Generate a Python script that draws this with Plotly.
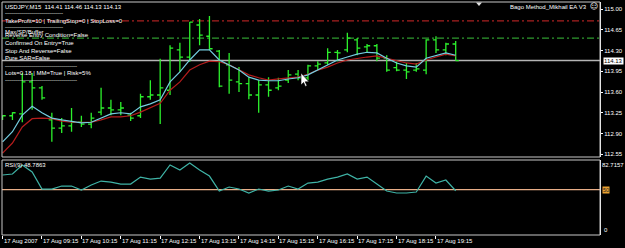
import plotly.graph_objects as go

# ---------------- data ----------------
bar_index = list(range(47))  # USDJPY M15 bars, 17 Aug 2007 08:15 .. 19:45

opens = [113.16, 113.20, 113.23, 113.77, 113.67, 113.13, 112.99, 113.03, 113.09, 113.06,
         113.26, 113.33, 113.30, 113.21, 113.20, 113.52, 113.55, 113.63, 114.31, 114.19,
         114.73, 114.54, 114.29, 114.06, 113.77, 113.74, 113.55, 113.72, 113.67, 113.80,
         113.90, 113.84, 114.04, 114.09, 114.27, 114.31, 114.48, 114.36, 114.38, 114.17,
         114.01, 113.97, 113.97, 113.97, 114.48, 114.31, 114.41]
highs = [113.21, 113.26, 113.92, 113.92, 113.70, 113.25, 113.16, 113.33, 113.20, 113.25,
         113.67, 113.47, 113.43, 113.25, 113.57, 113.80, 114.16, 114.39, 114.43, 114.78,
         114.83, 114.88, 114.31, 114.26, 114.02, 113.85, 113.80, 113.85, 113.84, 113.97,
         113.97, 114.06, 114.12, 114.34, 114.31, 114.60, 114.51, 114.41, 114.41, 114.22,
         114.11, 114.09, 114.09, 114.49, 114.54, 114.43, 114.46]
lows = [113.13, 113.13, 113.09, 113.30, 113.47, 112.76, 112.91, 112.93, 113.01, 112.99,
        113.21, 113.21, 113.21, 113.11, 113.16, 113.47, 113.06, 113.55, 113.94, 114.11,
        114.39, 114.31, 113.68, 113.57, 113.60, 113.48, 113.25, 113.52, 113.63, 113.75,
        113.80, 113.80, 113.97, 114.06, 114.12, 114.27, 114.22, 114.26, 114.12, 113.94,
        113.95, 113.82, 113.94, 113.90, 114.26, 114.22, 114.13]
closes = [113.20, 113.25, 113.77, 113.67, 113.50, 112.99, 113.03, 113.09, 113.06, 113.16,
          113.33, 113.30, 113.33, 113.16, 113.52, 113.55, 113.67, 114.34, 114.19, 114.78,
          114.56, 114.33, 113.70, 113.80, 113.74, 113.55, 113.72, 113.63, 113.70, 113.89,
          113.84, 114.04, 114.07, 114.27, 114.26, 114.51, 114.34, 114.38, 114.17, 113.97,
          113.97, 113.94, 113.99, 114.48, 114.31, 114.41, 114.13]

ma_fast = [112.76, 112.93, 113.21, 113.36, 113.25, 113.16, 113.13, 113.11, 113.08, 113.09,
           113.16, 113.23, 113.25, 113.23, 113.35, 113.40, 113.47, 113.77, 113.94, 114.14,
           114.31, 114.31, 114.14, 114.06, 113.97, 113.85, 113.80, 113.79, 113.79, 113.82,
           113.84, 113.89, 113.97, 114.06, 114.14, 114.19, 114.24, 114.27, 114.26, 114.17,
           114.09, 114.04, 114.02, 114.17, 114.21, 114.26, 114.22]
ma_slow = [112.57, 112.74, 113.01, 113.15, 113.16, 113.15, 113.11, 113.09, 113.09, 113.09,
           113.13, 113.18, 113.18, 113.20, 113.26, 113.33, 113.41, 113.63, 113.77, 113.97,
           114.06, 114.12, 114.11, 114.06, 113.97, 113.89, 113.84, 113.80, 113.82, 113.84,
           113.85, 113.90, 113.97, 114.02, 114.09, 114.14, 114.17, 114.19, 114.21, 114.17,
           114.12, 114.09, 114.07, 114.14, 114.19, 114.24, 114.21]

rsi = [66.2, 67.3, 77.2, 69.5, 50.7, 50.7, 54.0, 54.0, 49.6, 55.1,
       59.5, 58.4, 56.2, 56.2, 63.9, 61.7, 62.8, 77.2, 71.7, 79.4,
       71.7, 65.0, 48.5, 52.9, 50.7, 46.3, 50.7, 48.5, 49.6, 54.0,
       50.7, 57.3, 58.4, 61.7, 63.9, 67.3, 61.7, 63.9, 56.2, 48.5,
       46.3, 46.3, 47.4, 65.0, 57.3, 60.6, 48.7863]

price_ticks = [115.00, 114.65, 114.30, 113.95, 113.60, 113.25, 112.90, 112.55]
time_tick_bars = [0, 4, 8, 12, 16, 20, 24, 28, 32, 36, 40, 44]
time_tick_labels = ["17 Aug 2007", "17 Aug 09:15", "17 Aug 10:15", "17 Aug 11:15",
                    "17 Aug 12:15", "17 Aug 13:15", "17 Aug 14:15", "17 Aug 15:15",
                    "17 Aug 16:15", "17 Aug 17:15", "17 Aug 18:15", "17 Aug 19:15"]

take_profit_level = 114.80
entry_level = 114.51
bid_level = 114.13
rsi_level = 50
rsi_max = 82.7157

info_lines = ["USDJPY,M15  114.41 114.46 114.13 114.13",
              "TakeProfit=10 | TrailingStop=0 | StopLoss=0",
              "Max/SP/Buffer",
              "Reverse Entry Condition=False",
              "Confirmed On Entry=True",
              "Stop And Reverse=False",
              "Pure SAR=False",
              "Lots=0.18 | MM=True | Risk=5%"]
ea_name = "Bago Method_Mikhail EA V3"
rsi_title = "RSI(9) 48.7863"

# ---------------- styling ----------------
FONT = "Liberation Sans"
BAR = "#2cf02c"
W, H = 625, 248
L_M, R_M, T_M, B_M = 2, 25, 2, 13
PW, PH = W - L_M - R_M, H - T_M - B_M


def PX(x):
    return (x - L_M) / PW


def PY(y):
    return (H - B_M - y) / PH


main_dom = [PY(157), 1]
rsi_dom = [0, PY(160)]
X_RANGE = [-0.06, -0.06 + PW / 9.85]

fig = go.Figure()
fig.add_trace(go.Ohlc(x=bar_index, open=opens, high=highs, low=lows, close=closes,
                      increasing=dict(line=dict(color=BAR, width=1.3)),
                      decreasing=dict(line=dict(color=BAR, width=1.3)),
                      tickwidth=0.32, xaxis="x", yaxis="y", hoverinfo="skip"))
fig.add_trace(go.Scatter(x=bar_index, y=ma_slow, mode="lines",
                         line=dict(color="#b41c1c", width=1.2), xaxis="x", yaxis="y"))
fig.add_trace(go.Scatter(x=bar_index, y=ma_fast, mode="lines",
                         line=dict(color="#74cde0", width=1.2), xaxis="x", yaxis="y"))
fig.add_trace(go.Scatter(x=bar_index, y=rsi, mode="lines",
                         line=dict(color="#3fb3a6", width=1.2), xaxis="x2", yaxis="y2"))

shapes = [
    dict(type="line", xref="paper", x0=0, x1=1, yref="y", y0=take_profit_level, y1=take_profit_level,
         line=dict(color="#a82020", width=1.3, dash="7px,3px,2px,3px"), layer="below"),
    dict(type="line", xref="paper", x0=0, x1=1, yref="y", y0=entry_level, y1=entry_level,
         line=dict(color="#2f9a2f", width=1.3, dash="7px,3px,2px,3px"), layer="below"),
    dict(type="line", xref="paper", x0=0, x1=1, yref="y", y0=bid_level, y1=bid_level,
         line=dict(color="#b4b4b4", width=1.5), layer="below"),
    dict(type="line", xref="paper", x0=0, x1=1, yref="y2", y0=rsi_level, y1=rsi_level,
         line=dict(color="#e8ae88", width=1.2), layer="below"),
    dict(type="rect", xref="paper", yref="paper", x0=0, x1=1, y0=main_dom[0], y1=main_dom[1],
         line=dict(color="#c8c8c8", width=1)),
    dict(type="rect", xref="paper", yref="paper", x0=0, x1=1, y0=rsi_dom[0], y1=rsi_dom[1],
         line=dict(color="#c8c8c8", width=1)),
    # chart-shift marker
    dict(type="path", xref="paper", yref="paper",
         path=f"M {PX(476)} {PY(2.5)} L {PX(482)} {PY(2.5)} L {PX(479)} {PY(6)} Z",
         fillcolor="#e0e0e0", line=dict(width=0)),
    # mouse cursor
    dict(type="path", xref="paper", yref="paper",
         path=(f"M {PX(301)} {PY(73)} L {PX(301)} {PY(85)} L {PX(303.6)} {PY(82.4)} "
               f"L {PX(305.4)} {PY(86.5)} L {PX(307)} {PY(85.8)} L {PX(305.2)} {PY(81.8)} "
               f"L {PX(309)} {PY(81.8)} Z"),
         fillcolor="white", line=dict(color="black", width=0.6)),
]

ann = []
txt = dict(color="white", size=6, family=FONT)


def left_text(s, x, y, **kw):
    a = dict(text=s, xref="paper", yref="paper", x=PX(x), y=PY(y), xanchor="left",
             yanchor="middle", showarrow=False, font=txt, borderpad=0)
    a.update(kw)
    ann.append(a)


left_text(info_lines[0], 4, 7)
left_text("-" * 29, 4, 13)
left_text(info_lines[1], 4, 21)
left_text("-" * 29, 4, 27)
left_text(info_lines[2], 4, 32)
left_text(info_lines[3], 4, 35)
left_text(info_lines[4], 4, 43)
left_text(info_lines[5], 4, 51)
left_text(info_lines[6], 4, 58)
left_text("-" * 36, 4, 66)
left_text(info_lines[7], 4, 73)
left_text("-" * 36, 4, 80)
left_text(rsi_title, 4, 165)
ann.append(dict(text=ea_name, xref="paper", yref="paper", x=PX(588), y=PY(7), xanchor="right",
                yanchor="middle", showarrow=False, font=txt, borderpad=0))
ann.append(dict(text="\u263a", xref="paper", yref="paper", x=PX(594), y=PY(7), xanchor="center",
                yanchor="middle", showarrow=False, font=dict(color="white", size=8, family="DejaVu Sans"),
                borderpad=0))

# price marker box
ann.append(dict(text=f"{bid_level:.2f}", xref="paper", yref="y", x=1, y=bid_level, xanchor="left",
                yanchor="middle", xshift=3, showarrow=False, bgcolor="white",
                font=dict(color="black", size=6, family=FONT), borderpad=0))
# RSI scale labels
ann.append(dict(text=f"{rsi_max:.4f}", xref="paper", yref="y2", x=1, y=rsi_max, xanchor="left",
                yanchor="top", xshift=1, yshift=-1, showarrow=False, font=txt, borderpad=0))
ann.append(dict(text="0", xref="paper", yref="y2", x=1, y=0, xanchor="left",
                yanchor="bottom", xshift=3, yshift=1, showarrow=False, font=txt, borderpad=0))
ann.append(dict(text=str(rsi_level), xref="paper", yref="y2", x=1, y=rsi_level, xanchor="left",
                yanchor="middle", xshift=2, showarrow=False, bgcolor="#e8a030",
                font=dict(color="#202020", size=5.5, family=FONT), borderpad=0))
# time labels
for b, lab in zip(time_tick_bars, time_tick_labels):
    ann.append(dict(text=lab, xref="x2", yref="paper", x=b, y=0, xanchor="left", yanchor="top",
                    xshift=0, yshift=-2, showarrow=False, font=txt, borderpad=0))

fig.update_layout(
    width=W, height=H, margin=dict(l=L_M, r=R_M, t=T_M, b=B_M),
    paper_bgcolor="black", plot_bgcolor="black", showlegend=False,
    xaxis=dict(domain=[0, 1], range=X_RANGE, anchor="y", showgrid=False, zeroline=False,
               showticklabels=False, rangeslider=dict(visible=False)),
    xaxis2=dict(domain=[0, 1], range=X_RANGE, anchor="y2", matches="x", showgrid=False, zeroline=False,
                showticklabels=False, ticks="outside", tickvals=time_tick_bars, ticklen=3,
                tickcolor="white", tickwidth=1),
    yaxis=dict(domain=main_dom, range=[112.504, 115.118], side="right", tickvals=price_ticks,
               ticktext=[f"{v:.2f}" for v in price_ticks], ticks="outside", ticklen=2,
               tickcolor="white", tickfont=txt, showgrid=False, zeroline=False,
               showline=True, linecolor="white", linewidth=1),
    yaxis2=dict(domain=rsi_dom, range=[0, rsi_max], side="right", showticklabels=False,
                showgrid=False, zeroline=False, showline=True, linecolor="white", linewidth=1),
    shapes=shapes, annotations=ann,
)

fig.write_html("out.html", config=dict(displayModeBar=False))
